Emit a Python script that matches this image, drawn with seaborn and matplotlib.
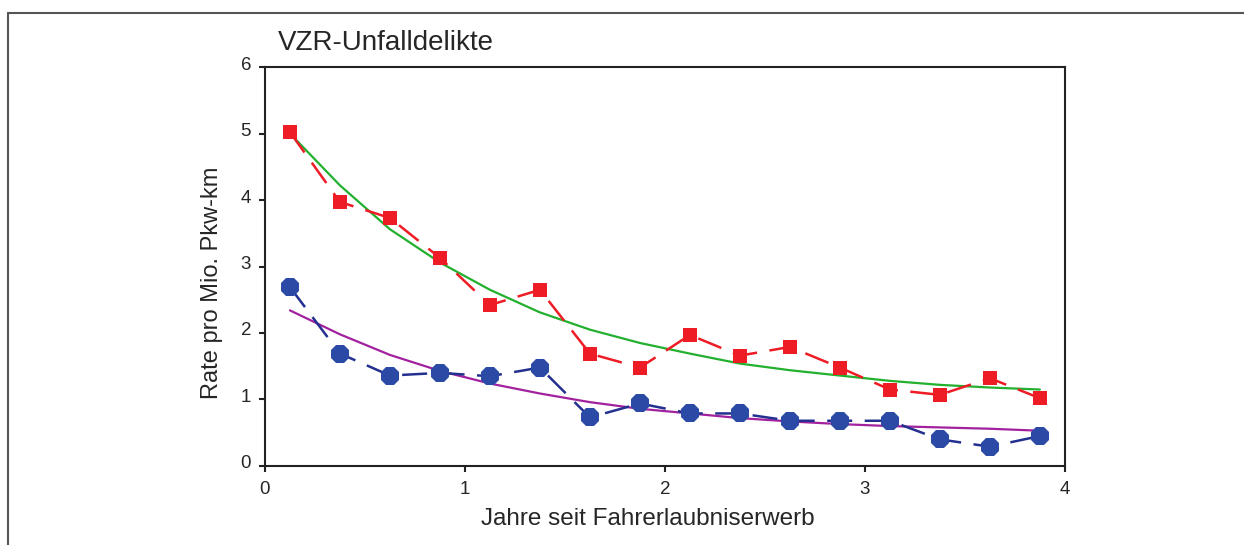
import numpy as np
import pandas as pd
import matplotlib
matplotlib.use("Agg")
import matplotlib.pyplot as plt
import matplotlib.transforms as mtransforms
import seaborn as sns
from matplotlib.lines import Line2D

# data
jahre = [0.125, 0.375, 0.625, 0.875, 1.125, 1.375, 1.625, 1.875,
         2.125, 2.375, 2.625, 2.875, 3.125, 3.375, 3.625, 3.875]
rate_rot = [5.02, 3.97, 3.73, 3.13, 2.42, 2.65, 1.69, 1.48,
            1.97, 1.66, 1.79, 1.48, 1.15, 1.07, 1.32, 1.02]
rate_blau = [2.69, 1.69, 1.36, 1.40, 1.35, 1.48, 0.73, 0.94,
             0.79, 0.79, 0.68, 0.68, 0.68, 0.40, 0.29, 0.45]
fit_gruen = [5.00, 4.22, 3.56, 3.06, 2.65, 2.31, 2.05, 1.85,
             1.69, 1.54, 1.44, 1.36, 1.28, 1.22, 1.18, 1.15]
fit_lila = [2.34, 1.98, 1.67, 1.43, 1.24, 1.09, 0.96, 0.86,
            0.79, 0.72, 0.67, 0.63, 0.60, 0.58, 0.56, 0.53]

df = pd.DataFrame({"jahre": jahre, "rot": rate_rot, "blau": rate_blau,
                   "gruen": fit_gruen, "lila": fit_lila})

sns.set_style("ticks")
plt.rcParams["font.family"] = ["Liberation Sans", "DejaVu Sans"]

fig = plt.figure(figsize=(12.44, 5.45), dpi=100)
ax = fig.add_axes([0.213, 0.145, 0.643, 0.732])

# fitted curves
sns.lineplot(data=df, x="jahre", y="gruen", ax=ax, color="#22b02e", linewidth=1.6)
sns.lineplot(data=df, x="jahre", y="lila", ax=ax, color="#a2219e", linewidth=1.6)

# observed rates
sns.lineplot(data=df, x="jahre", y="rot", ax=ax, color="#ee1c25", linewidth=1.8,
             linestyle=(0, (10, 5)), marker="s", markersize=9.5,
             markeredgewidth=0, markerfacecolor="#ee1c25")
sns.lineplot(data=df, x="jahre", y="blau", ax=ax, color="#233090", linewidth=1.8,
             linestyle=(0, (10, 5)), marker="8", markersize=13.5,
             markeredgewidth=0, markerfacecolor="#2b4aa6")

ax.set_xlim(0, 4)
ax.set_ylim(0, 6)
ax.set_xticks([0, 1, 2, 3, 4])
ax.set_yticks([0, 1, 2, 3, 4, 5, 6])
ax.tick_params(direction="out", length=4, width=1.5, labelsize=13.5, color="#222222")
ax.tick_params(axis="x", pad=7)
ax.tick_params(axis="y", pad=6)
for s in ax.spines.values():
    s.set_linewidth(1.5)
    s.set_color("#222222")

# y labels sit a little above their ticks in the original
shift = mtransforms.ScaledTranslation(0, 4 / 100, fig.dpi_scale_trans)
for lab in ax.get_yticklabels():
    lab.set_transform(lab.get_transform() + shift)

ax.set_xlabel("Jahre seit Fahrerlaubniserwerb", fontsize=17.5)
ax.set_ylabel("Rate pro Mio. Pkw-km", fontsize=17)
ax.xaxis.set_label_coords(0.479, -0.105)
ax.yaxis.set_label_coords(-0.053, 0.459)
fig.text(278 / 1244, 1 - 43 / 545, "VZR-Unfalldelikte", fontsize=20,
         ha="left", va="center")

# outer frame of the original page
fig.add_artist(Line2D([8 / 1244, 1.0], [1 - 13 / 545, 1 - 13 / 545],
                      transform=fig.transFigure, color="#555555", linewidth=1.5))
fig.add_artist(Line2D([8 / 1244, 8 / 1244], [0.0, 1 - 13 / 545],
                      transform=fig.transFigure, color="#555555", linewidth=1.5))

fig.savefig("out.png", dpi=100)
